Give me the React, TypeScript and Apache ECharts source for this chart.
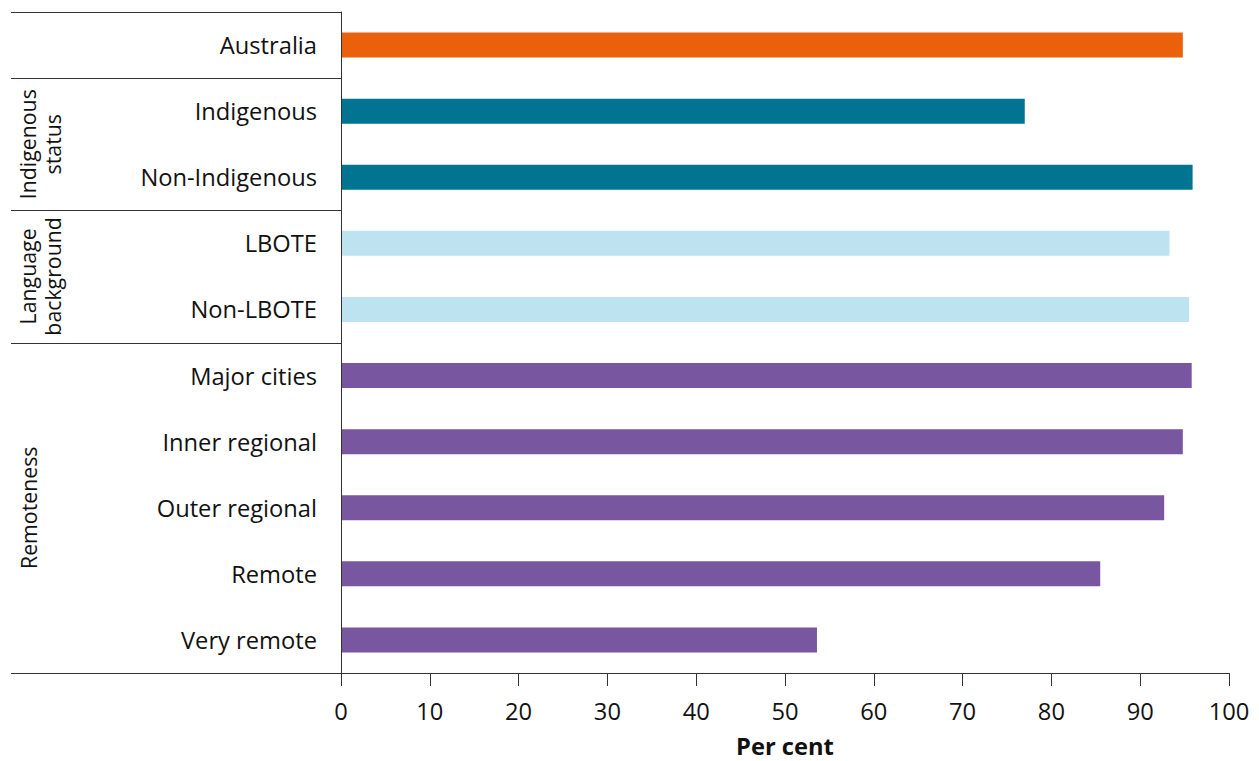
import React, { useEffect, useRef } from "react";
import * as echarts from "echarts";

const categories = [
  "Australia",
  "Indigenous",
  "Non-Indigenous",
  "LBOTE",
  "Non-LBOTE",
  "Major cities",
  "Inner regional",
  "Outer regional",
  "Remote",
  "Very remote",
];
const values = [94.8, 77.0, 95.9, 93.3, 95.5, 95.8, 94.8, 92.7, 85.5, 53.6];
const barColors = [
  "#EB600A",
  "#007490",
  "#007490",
  "#BEE3F0",
  "#BEE3F0",
  "#7857A0",
  "#7857A0",
  "#7857A0",
  "#7857A0",
  "#7857A0",
];
// groups: label, first index, count
const groupLabels = ["", "Indigenous\nstatus", "Language\nbackground", "Remoteness"];
const groupStarts = [0, 1, 3, 5];
const groupSizes = [1, 2, 2, 5];
const xTicks = { min: 0, max: 100, interval: 10 };

const W = 1259;
const H = 761;
const G = { left: 341, right: 30, top: 12, bottom: 88 };
const FONT = "'Open Sans', 'Noto Sans', sans-serif";
const FS = 23.7;
const GFS = 21.3;
const LINE = "#333333";

export default function App() {
  const ref = useRef<HTMLDivElement>(null);
  useEffect(() => {
    if (!ref.current) return;
    const chart = echarts.init(ref.current, undefined, { renderer: "svg" });
    const plotH = H - G.top - G.bottom;
    const band = plotH / categories.length;
    const graphics: any[] = [];
    groupStarts.forEach((s) => {
      const y = Math.round(G.top + s * band) + 0.5;
      graphics.push({
        type: "line",
        shape: { x1: 11, y1: y, x2: G.left, y2: y },
        style: { stroke: LINE, lineWidth: 1 },
        silent: true,
      });
    });
    const yb = Math.round(G.top + plotH) + 0.5;
    graphics.push({
      type: "line",
      shape: { x1: 11, y1: yb, x2: G.left, y2: yb },
      style: { stroke: LINE, lineWidth: 1 },
      silent: true,
    });
    groupLabels.forEach((lab, i) => {
      if (!lab) return;
      const cy = G.top + (groupStarts[i] + groupSizes[i] / 2) * band;
      const twoLine = lab.indexOf("\n") >= 0;
      graphics.push({
        type: "text",
        x: twoLine ? 40 : 28,
        y: cy,
        rotation: Math.PI / 2,
        style: {
          text: lab,
          fontSize: GFS,
          fontFamily: FONT,
          fill: "#111111",
          align: "center",
          verticalAlign: "middle",
          lineHeight: 25,
        },
        silent: true,
      });
    });

    chart.setOption({
      animation: false,
      backgroundColor: "#ffffff",
      grid: {
        left: G.left,
        right: G.right,
        top: G.top,
        bottom: G.bottom,
        containLabel: false,
        outerBoundsMode: "none",
      },
      xAxis: {
        type: "value",
        min: xTicks.min,
        max: xTicks.max,
        interval: xTicks.interval,
        name: "Per cent",
        nameLocation: "middle",
        nameGap: 61,
        nameTextStyle: {
          fontSize: FS,
          fontWeight: "bold",
          color: "#111111",
          fontFamily: FONT,
          lineHeight: 24,
        },
        axisLine: { show: true, lineStyle: { color: LINE, width: 1 } },
        axisTick: { show: true, inside: false, length: 13, lineStyle: { color: LINE, width: 1 } },
        axisLabel: { fontSize: FS, color: "#111111", fontFamily: FONT, margin: 26 },
        splitLine: { show: false },
      },
      yAxis: {
        type: "category",
        data: categories,
        inverse: true,
        z: 5,
        axisLine: { show: true, lineStyle: { color: LINE, width: 1 } },
        axisTick: { show: false },
        axisLabel: { fontSize: FS, color: "#111111", fontFamily: FONT, margin: 24 },
        splitLine: { show: false },
      },
      series: [
        {
          type: "bar",
          data: values.map((v, i) => ({ value: v, itemStyle: { color: barColors[i] } })),
          barWidth: 25,
        },
      ],
      graphic: graphics,
    });
    return () => chart.dispose();
  }, []);
  return (
    <div
      ref={ref}
      style={{ position: "fixed", left: 0, top: 0, width: W, height: H, background: "#fff" }}
    />
  );
}
